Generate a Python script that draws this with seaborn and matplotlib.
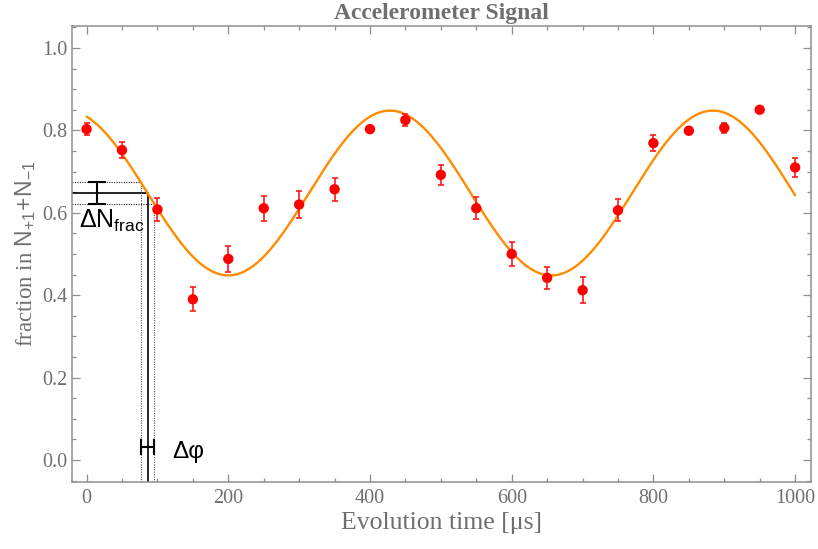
import numpy as np
import pandas as pd
import matplotlib
matplotlib.use("Agg")
import matplotlib.pyplot as plt
from matplotlib.ticker import MultipleLocator
import seaborn as sns

# Measured accelerometer signal
time_us = [0, 50, 100, 150, 200, 250, 300, 350, 400, 450, 500,
           550, 600, 650, 700, 750, 800, 850, 900, 950, 1000]
fraction = [0.803, 0.752, 0.608, 0.390, 0.488, 0.611, 0.620, 0.657, 0.803, 0.825, 0.692,
            0.611, 0.500, 0.442, 0.412, 0.606, 0.769, 0.799, 0.806, 0.850, 0.710]
fraction_err = [0.015, 0.019, 0.029, 0.029, 0.031, 0.030, 0.032, 0.028, 0.008, 0.015, 0.024,
                0.027, 0.029, 0.027, 0.031, 0.027, 0.019, 0.008, 0.012, 0.005, 0.023]

# Sinusoidal fit parameters
fit_offset = 0.648
fit_amplitude = 0.200
fit_period = 456.0
fit_peak_time = 428.0

# Sensitivity illustration: fraction level and its uncertainty
dn_level = 0.648
dn_half = 0.0265

x_ticks = [0, 200, 400, 600, 800, 1000]
y_ticks = [0.0, 0.2, 0.4, 0.6, 0.8, 1.0]
x_tick_labels = ["0", "200", "400", "600", "800", "1000"]
y_tick_labels = ["0.0", "0.2", "0.4", "0.6", "0.8", "1.0"]


def fit_curve(t):
    return fit_offset + fit_amplitude * np.cos(2 * np.pi * (np.asarray(t) - fit_peak_time) / fit_period)


def fit_time_on_falling_edge(level):
    # falling edge following the peak one period before fit_peak_time
    return (fit_peak_time - fit_period
            + fit_period / (2 * np.pi) * np.arccos((level - fit_offset) / fit_amplitude))


sns.set_style("ticks")
plt.rcParams["font.family"] = ["Liberation Serif", "DejaVu Serif"]
plt.rcParams["mathtext.fontset"] = "custom"
plt.rcParams["mathtext.rm"] = "Liberation Sans"
plt.rcParams["mathtext.it"] = "Liberation Sans:italic"
plt.rcParams["mathtext.bf"] = "Liberation Sans:bold"

frame_gray = "#8f8f8f"
text_gray = "#6f6f6f"

fig = plt.figure(figsize=(8.18, 5.49), dpi=100)
ax = fig.add_axes([0.08765, 0.12204, 0.90343, 0.83115])

# fitted curve
t_fit = np.linspace(0, 1000, 600)
fit_df = pd.DataFrame({"t": t_fit, "y": fit_curve(t_fit)})
sns.lineplot(data=fit_df, x="t", y="y", color="#ff8c00", linewidth=1.7, ax=ax, zorder=2)

# data with error bars
data_df = pd.DataFrame({"t": time_us, "y": fraction, "err": fraction_err})
ax.errorbar(data_df["t"], data_df["y"], yerr=data_df["err"], fmt="none",
            ecolor="#ff1a1a", elinewidth=1.2, capsize=2.3, capthick=1.2, zorder=3)
sns.scatterplot(data=data_df, x="t", y="y", color="#ff0000", s=56, edgecolor="none",
                ax=ax, zorder=4)

xlim = (-21, 1022)
ylim = (-0.0534, 1.054)
ax.set_xlim(*xlim)
ax.set_ylim(*ylim)

# slope illustration
t_c = fit_time_on_falling_edge(dn_level)
t_hi_level = fit_time_on_falling_edge(dn_level + dn_half)
t_lo_level = fit_time_on_falling_edge(dn_level - dn_half)

ax.plot([xlim[0], t_c], [dn_level, dn_level], color="black", lw=1.2, zorder=1)
ax.plot([t_c, t_c], [ylim[0], dn_level], color="black", lw=1.2, zorder=1)
dot = (0, (1, 1.2))
ax.plot([xlim[0], t_hi_level], [dn_level + dn_half] * 2, color="#222222", lw=0.8, ls=dot, zorder=1)
ax.plot([t_hi_level, t_hi_level], [ylim[0], dn_level + dn_half], color="#555555", lw=0.8, ls=dot, zorder=1)
ax.plot([xlim[0], t_lo_level], [dn_level - dn_half] * 2, color="#222222", lw=0.8, ls=dot, zorder=1)
ax.plot([t_lo_level, t_lo_level], [ylim[0], dn_level - dn_half], color="#555555", lw=0.8, ls=dot, zorder=1)

ax.errorbar([15], [dn_level], yerr=[dn_half], fmt="none", ecolor="black",
            elinewidth=1.5, capsize=6.5, capthick=1.5, zorder=2)
ax.errorbar([(t_hi_level + t_lo_level) / 2], [0.032], xerr=[(t_lo_level - t_hi_level) / 2],
            fmt="none", ecolor="black", elinewidth=1.5, capsize=6, capthick=1.5, zorder=2)

ax.text(-10, 0.563, r"$\mathrm{\Delta N}_{\mathrm{frac}}$", fontsize=18, color="black",
        ha="left", va="baseline")
ax.text(121, 0.006, "Δφ", fontsize=17.5, color="black", ha="left", va="baseline",
        family=["Liberation Sans", "DejaVu Sans"])

# frame, ticks, labels
ax.set_xticks(x_ticks)
ax.set_xticklabels(x_tick_labels)
ax.set_yticks(y_ticks)
ax.set_yticklabels(y_tick_labels)
ax.xaxis.set_minor_locator(MultipleLocator(50))
ax.yaxis.set_minor_locator(MultipleLocator(0.05))
ax.tick_params(which="both", direction="in", top=True, right=True, color=frame_gray,
               width=0.9, labelsize=14.5, labelcolor=text_gray)
ax.tick_params(which="major", length=5.5)
ax.tick_params(which="minor", length=2.8)
ax.tick_params(axis="x", pad=5)
ax.tick_params(axis="y", pad=3)
for side in ax.spines.values():
    side.set_color(frame_gray)
    side.set_linewidth(1.1)

ax.set_xlabel("Evolution time [μs]", fontsize=18.5, color=text_gray, labelpad=3)
ax.set_ylabel(r"fraction in $\mathrm{N}_{+1}\!+\!\mathrm{N}_{-1}$", fontsize=16.5,
              color=text_gray, labelpad=3)
ax.set_title("Accelerometer Signal", fontsize=17, fontweight="bold", color=text_gray, pad=5)

fig.savefig("out.png", dpi=100)
